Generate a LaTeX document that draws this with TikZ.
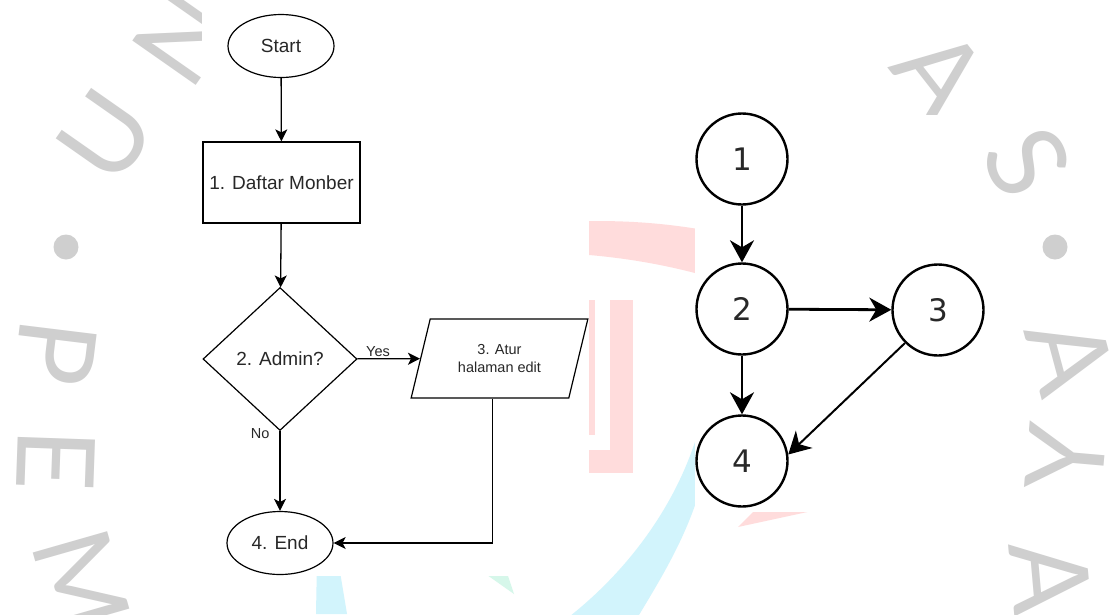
\documentclass[tikz,border=0pt]{standalone}
\usepackage{fontspec}
\setmainfont{Liberation Sans}
\newfontfamily\graphfont{DejaVu Sans}
\newfontfamily\ringfont{Lato}
\usetikzlibrary{shapes.geometric,arrows.meta}

\definecolor{ringgray}{RGB}{207,207,207}
\definecolor{logopink}{RGB}{255,220,220}
\definecolor{logocyan}{RGB}{210,244,252}
\definecolor{logomint}{RGB}{214,247,234}
\definecolor{inkgray}{RGB}{40,40,40}

\tikzset{
  ringletter/.style={text=ringgray, inner sep=0pt, font=\ringfont\fontsize{108}{108}\selectfont},
  ringdot/.style={circle, fill=ringgray, minimum size=25pt, inner sep=0pt},
  term/.style={ellipse, draw=black, line width=1.2pt, minimum width=106pt, minimum height=63pt,
    inner sep=0pt, text=inkgray, font=\fontsize{19}{22}\selectfont},
  procbox/.style={rectangle, draw=black, line width=1.2pt, minimum width=157pt, minimum height=81pt,
    inner sep=0pt, text=inkgray, font=\fontsize{19}{22}\selectfont},
  decision/.style={diamond, draw=black, line width=1.2pt, minimum width=154pt, minimum height=143pt,
    inner sep=0pt, text=inkgray, font=\fontsize{19}{22}\selectfont},
  iobox/.style={trapezium, trapezium left angle=68, trapezium right angle=112, trapezium stretches=true,
    draw=black, line width=1.2pt, minimum width=177pt, minimum height=79pt, inner sep=0pt,
    align=center, text=inkgray, font=\fontsize{14.5}{18}\selectfont},
  flow/.style={draw=black, line width=1.3pt, -{Stealth[length=12pt,width=12pt,inset=3pt]}},
  branchlabel/.style={font=\fontsize{14.5}{16}\selectfont, text=inkgray, inner sep=1pt},
  cfgnode/.style={circle, draw=black, line width=2.4pt, minimum size=91pt, inner sep=0pt,
    text=inkgray, font=\graphfont\fontsize{31}{31}\selectfont},
  cfgedge/.style={draw=black, line width=2.8pt, -{Stealth[length=22pt,width=24pt,inset=7pt]}},
}

\begin{document}
\begin{tikzpicture}[x=1pt,y=-1pt]
\useasboundingbox (0,0) rectangle (1112,614);
\fill[white] (0,0) rectangle (1112,614);

% ---- faint logo in the background ----
\fill[logopink] (560,222) .. controls (620,219) and (670,223) .. (720,233)
  -- (720,280) .. controls (670,265) and (620,256) .. (560,253) -- cycle;
\fill[logopink] (589,300) rectangle (595,435);
\fill[logopink] (610,300) rectangle (633,473);
\fill[logopink] (580,450) rectangle (633,473);
\fill[logopink] (738,527) -- (812,511) -- (760,505) -- cycle;
\fill[logocyan] (700,425) .. controls (680,500) and (630,570) .. (565,620)
  -- (636,620) .. controls (660,580) and (685,540) .. (700,490) -- cycle;
\fill[logocyan] (317,560) -- (338,560) -- (347,614) -- (316,614) -- cycle;
\fill[logomint] (480,570) -- (506,570) -- (514,594) -- cycle;

\node[ringletter, rotate=55]  (wN)  at (182,38)   {N};
\node[ringletter, rotate=55]  (wU)  at (106,136)  {U};
\node[ringdot]                (wd1) at (66,247)   {};
\node[ringletter, rotate=-97] (wP)  at (56,352)   {P};
\node[ringletter, rotate=-92] (wE)  at (56,460)   {E};
\node[ringletter, rotate=-74] (wM)  at (82,581)   {M};
\node[ringletter, rotate=-52] (wA1) at (940,72)   {A};
\node[ringletter, rotate=-63] (wS)  at (1027,162) {S};
\node[ringdot]                (wd2) at (1055,247) {};
\node[ringletter, rotate=-75] (wA2) at (1070,356) {A};
\node[ringletter, rotate=85]  (wY)  at (1066,458) {Y};
\node[ringletter, rotate=-85] (wA3) at (1050,578) {A};

% white panels behind the two drawings
\fill[white] (202,0) rectangle (589,576);
\fill[white] (695,115) rectangle (986,512);

% ---- flowchart ----
\node[term]     (start) at (281,46)      {Start};
\node[procbox]  (p1)    at (281.5,182.5) {1. Daftar Monber};
\node[decision] (d2)    at (280,359)     {2. Admin?};
\node[iobox]    (p3)    at (499.5,358.5) {3. Atur\\halaman edit};
\node[term]     (stop)  at (280,543)     {4. End};

\draw[flow] (start) -- (p1);
\draw[flow] (p1) -- (d2);
\draw[flow] (d2) -- node[branchlabel, pos=0.33, above] {Yes} (p3);
\draw[flow] (d2) -- node[branchlabel, pos=0.03, left, xshift=-9pt] {No} (stop);
\draw[flow] ([xshift=-7pt]p3.south) |- (stop.east);

% ---- flow graph ----
\node[cfgnode] (n1) at (742,159) {1};
\node[cfgnode] (n2) at (742,309) {2};
\node[cfgnode] (n3) at (938,310) {3};
\node[cfgnode] (n4) at (742,461) {4};

\draw[cfgedge] (n1) -- (n2);
\draw[cfgedge] (n2) -- (n3);
\draw[cfgedge] (n2) -- (n4);
\draw[cfgedge, line width=2pt] (n3.225) -- (n4.8);
\end{tikzpicture}
\end{document}
